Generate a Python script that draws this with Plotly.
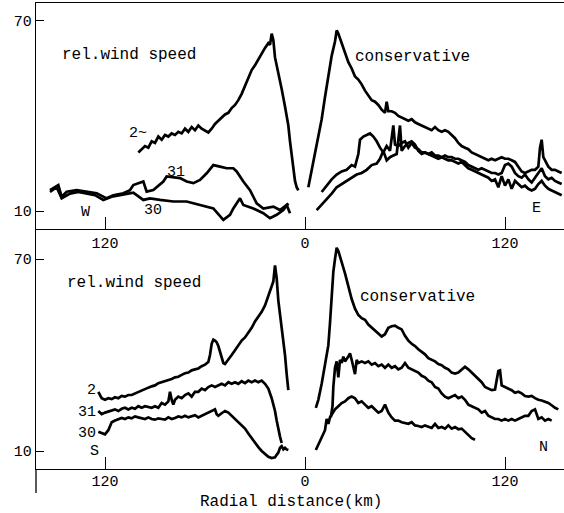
import plotly.graph_objects as go

# ---------------- data (km, relative wind speed) ----------------
# TOP panel (W - E)
top2_w_km = [-100,-98,-96,-94,-92,-90,-88,-86,-84,-82,-80,-78,-76,-74,-72,-70,-68,-66,-64,-62,-60,-58,-56,-54,-52,-50,-48,-46,-44,-42,-40,-38,-36,-34,-32,-30,-28,-26,-24,-22,-21,-20,-19,-18,-16,-14,-12,-10,-9,-8,-7,-6,-5,-4]
top2_w_v = [28.5,29.5,30.5,30,32,31.5,33.5,32.5,34,33.5,34.5,34,35,34.5,36,35,36.5,35.5,37,36,35.5,34.8,36,37.5,38.5,39.5,40.5,41,42.5,43.5,45,47,49.5,52,54.5,56,58,60,61.5,63,62.5,66,64,58.5,54,48.5,43,37,32,28,24.5,19.5,17.5,16.5]

top2_e_km = [2,4,6,8,10,12,14,16,18,19,20,21,22,24,26,28,30,32,34,36,38,40,42,44,46,48,49,50,52,54,56,58,60,62,64,66,68,70,72,74,76,78,80,82,84,86,88,90,92,94,96,98,100,102,104,106,108,110,112,114,116,118,120,122,124,126,128,130,132,134,136,138,140,141,142,143,144,146,148,150,152,154]
top2_e_v = [17.5,23,28,33.5,39,46,53,59,63.5,67,66,64.5,63,60,57,55,52.5,51.5,50,48,46.5,45,44.5,43.5,42,41,44.5,41.5,41.5,41,40,39.5,39,38.5,39,38,37.5,37,36.5,36,35.5,36.5,35.5,35,35.5,35,34,33,31.5,30.5,30,29.5,28.5,28,27.5,27,26.5,26,26.5,26,26.5,27,26.5,26.5,26,25.5,24,22.5,22,22.5,23,23,24,30,32.5,27,26,24,23,23,22.5,22]

top31_w_km = [-153,-148,-146,-143,-137,-131,-125,-119,-115,-109,-105,-103,-97,-95,-91,-85,-83,-75,-71,-67,-63,-59,-55,-51,-47,-43,-41,-37,-33,-31,-29,-25,-19,-15,-11,-9]
top31_w_v = [16.6,18.2,14.5,16.1,16.6,16.1,15.6,14.0,15.0,15.6,16.6,18.2,19.3,16.1,16.6,19.3,20.9,20.4,19.3,18.8,19.8,21.9,24.5,24.0,23.5,23.5,22.5,19.3,16.6,14.5,12.4,10.8,11.4,10.3,11.9,9.3]

top30_w_km = [-153,-149,-146,-141,-136,-131,-126,-121,-116,-111,-107,-103,-97,-93,-87,-79,-71,-63,-55,-49,-45,-43,-39,-37,-31,-25,-21,-17,-13,-10]
top30_w_v = [16.0,17.5,14.0,15.5,16.0,15.5,15.0,13.5,14.5,15.0,15.5,15.8,13.5,14.0,13.5,13.0,13.0,11.9,10.8,7.2,8.8,10.8,14.0,11.9,10.8,9.3,7.7,8.8,10.3,12.4]

top31_e_km = [10,13,16,19,22,25,28,30,32,33,35,37,39,41,43,45,47,49,51,53,54,56,58,60,62,64,66,68,70,72,74,76,78,80,82,84,86,88,90,92,94,96,98,100,102,104,106,108,110,112,114,116,118,120,122,124,126,128,130,132,134,136,138,140,142,144,146,148,150,152,154]
top31_e_v = [16.0,18,20,21.5,22.5,23,24.5,24,28,32.5,33.5,34,34.5,33.5,32,30,28.5,30.5,29,37,31,30.5,31.5,32,30,31.5,30,29.5,28.5,28.5,28,28.5,27.5,27.5,27,27.5,27,27,26.5,26.5,26,25.5,24.5,24,23.5,23,23.5,23,22.5,22,22,21.5,22,24.5,25,24,22,21,20.5,21.5,20,19,20.5,22,23.5,21,20,20.5,19.5,19,18.5]

top30_e_km = [7,10,13,16,19,22,25,28,31,34,37,40,43,45,47,49,51,53,55,57,58,60,62,64,66,68,70,72,74,76,78,80,82,84,86,88,90,92,94,96,98,100,102,104,106,108,110,112,114,116,118,120,122,124,126,128,130,132,134,136,138,140,142,144,146,148,150,152,154]
top30_e_v = [10.3,12,14,15.5,17.5,18.5,19.5,20.5,21.5,22,23,24.5,25,26.5,29,26,27,27.5,28,37,29,30.5,31.5,32,31,29,28,28.5,28,27.5,27,26.5,27,26.5,26,26,25.5,25,25.5,24.5,23.5,23,22.5,22,21.5,21,20.5,19.5,20,17.5,21,18,20,17,19.5,18.5,17.5,18,17,16.5,17,18.5,19.5,18,17,16.5,16,15.5,15]

# BOTTOM panel (S - N)
bot2_s_km = [-124,-122,-120,-118,-116,-114,-112,-110,-108,-106,-104,-102,-100,-98,-96,-94,-92,-90,-88,-86,-84,-82,-80,-78,-76,-74,-72,-70,-68,-66,-64,-62,-60,-58,-57,-56,-55,-54,-53,-52,-51,-50,-49,-48,-47,-46,-44,-42,-40,-38,-36,-34,-32,-30,-28,-26,-24,-22,-20,-19,-18,-17,-16,-15,-14,-13,-12,-11,-10]
bot2_s_v = [28.5,26.5,26,26.5,26.2,26.8,26.5,27.2,27,27.5,27.5,28,28.5,29,29.3,29.8,30.2,30.5,31.2,31.5,32,32.3,32.5,33,33.2,33.8,34.3,34.5,35.2,35.5,35.8,36.5,37,37.8,40,43.5,44.8,44.5,44,42.8,41,39,37.5,37.2,38,38.5,40,41.5,43,44.5,45.5,47,48.5,50.5,52,53.5,55.5,58.5,61.5,63,68,64,57,53,49,45,40,34,29]

bot31_s_km = [-124,-122,-120,-118,-116,-114,-112,-110,-108,-106,-104,-102,-100,-98,-96,-94,-92,-90,-88,-86,-84,-82,-81,-80,-79,-78,-76,-74,-72,-70,-68,-66,-64,-62,-60,-58,-56,-54,-52,-50,-48,-46,-44,-42,-40,-38,-36,-34,-32,-30,-28,-26,-24,-22,-20,-18,-17,-16,-15,-14]
bot31_s_v = [22.5,21.5,22,22.3,22.8,23,22.5,23.2,23.5,23,23.5,23.2,24,23.5,24,23.8,23.5,24,23.5,25,24.5,25.5,28.5,26,24.5,26,27,26.5,27.5,28,27,28.5,28.5,29.5,29,30,30.5,30,30.5,31,30.5,31.5,31,31.5,31,31.8,31.2,32,31.5,32,31.5,32,31,29.5,26.5,22.5,19.5,16.5,14.5,12.5]

bot30_s_km = [-124,-122,-120,-118,-116,-114,-112,-110,-108,-106,-104,-102,-100,-98,-96,-94,-92,-90,-88,-86,-84,-82,-80,-78,-76,-74,-72,-70,-68,-66,-64,-62,-60,-58,-56,-54,-53,-52,-50,-48,-46,-44,-42,-40,-38,-36,-34,-32,-30,-28,-26,-24,-22,-20,-18,-17,-16,-15,-14,-13,-12,-11,-10]
bot30_s_v = [16,15.5,15.2,16.5,19,19.5,20,20.3,20,20.5,20.2,20.8,20.5,20.2,20,20.5,20,19.8,20.2,20,19.8,20.5,20,20.3,20.8,20.5,21,20.5,20.8,21.2,20.5,21,21.5,22,22.5,23,21.5,21,21.8,22.5,22,21,20,19,18,17,15.5,14,12.5,11.2,10,9,8.2,7.8,8,8.8,9.5,11,11.5,10.5,11,10.5,10.3]

bot2_n_km = [6.5,8,10,12,14,15,16,17,18,19,20,21,22,24,26,28,30,32,34,36,38,40,42,44,46,48,50,52,54,56,58,60,62,64,66,68,70,72,74,76,78,80,82,84,86,88,90,92,94,96,98,100,102,104,106,108,110,112,114,116,117,118,120,122,124,126,128,130,132,134,136,138,140,142,144,146,148,150,152]
bot2_n_v = [23.5,26,31,37,43,50,60,66,70,73.5,72.5,71,69,65.5,61,57.5,54.5,52.5,51.5,51,49.5,48.5,47.5,46.5,45.8,46.5,48.5,49,49.2,48.5,48,46,44.5,43.5,42.8,41.8,41,40.2,39,38.5,38,37.2,36.8,36,35.5,34.5,34.2,34.5,35.5,36.3,35.5,34.5,33.5,32.5,31.5,30,29.5,29,29.2,35,35.2,30.5,30,29.5,29,28.2,28.5,28,27.2,27,27.2,26.5,26,25.8,25.5,25,24.3,23.5,23]

bot31_n_km = [15.5,16.5,17,18,19,20,21,22,23,24,26,27,28,29,30,31,32,34,36,38,40,42,44,46,48,50,52,54,56,58,60,62,64,66,68,70,72,74,76,78,80,82,84,86,88,90,92,94,96,98,100,102,104,106,108,110,112,114,116,118,120,122,124,126,128,130,132,134,136,138,140,142,144,146,148]
bot31_n_v = [20.5,24,30,36,38,33,38.5,37.5,39.5,38,39.5,40.5,38.5,36,34,38.5,37.5,38,37.5,38,37,37.5,36.5,37,36,37,36,36.5,35.5,36,37.5,36,35.5,35,34.5,33.5,33,32,31.5,30,29.5,28,27,26.5,27,27.5,26.5,27,26,24.5,24,23.5,23,22,22.5,21,20.5,20,20,19.5,20,19.5,20,19.5,20,20.5,21,21,22.5,23,20,20.5,19.5,20,19.5]

bot30_n_km = [6.5,8,10,12,13,14,15,16,18,20,22,24,26,28,30,32,34,36,38,40,42,44,46,48,50,52,54,56,58,60,62,64,66,68,70,72,74,76,78,80,82,84,86,88,90,92,94,96,98,100,102]
bot30_n_v = [10.3,12,14.5,16.5,20,18.5,20.5,21.5,23,24,25,25.5,26.5,27,26.5,25,25.5,24.5,23.5,24,23,22,22.5,24.5,22,20.5,19.5,19.5,19,18.8,18.5,19,18,17.8,17.5,18,17.5,17.2,18.5,17.2,17.5,17,18,17,17.5,16.8,17,16,15,14,13.5]

x_tickvals = [-120, 0, 120]
x_ticktext = ["120", "0", "120"]
y_tickvals = [10, 70]
y_ticktext = ["10", "70"]

# ---------------- figure ----------------
W, H = 564, 513
FONT = "Liberation Mono"
fig = go.Figure()

line = dict(color="black", width=2.7)
for xs, ys in [(top2_w_km, top2_w_v), (top2_e_km, top2_e_v), (top31_w_km, top31_w_v),
               (top30_w_km, top30_w_v), (top31_e_km, top31_e_v), (top30_e_km, top30_e_v)]:
    fig.add_trace(go.Scatter(x=xs, y=ys, mode="lines", line=line, xaxis="x", yaxis="y",
                             showlegend=False, hoverinfo="skip"))
for xs, ys in [(bot2_s_km, bot2_s_v), (bot31_s_km, bot31_s_v), (bot30_s_km, bot30_s_v),
               (bot2_n_km, bot2_n_v), (bot31_n_km, bot31_n_v), (bot30_n_km, bot30_n_v)]:
    fig.add_trace(go.Scatter(x=xs, y=ys, mode="lines", line=line, xaxis="x2", yaxis="y2",
                             showlegend=False, hoverinfo="skip"))

def px_x(p):
    return p / W

def px_y(p):
    return 1 - p / H

xr = [-161.4, 155.4]
axis_common = dict(showgrid=False, zeroline=False, showline=True, linecolor="black",
                   linewidth=1.3, ticks="inside", tickcolor="black",
                   tickfont=dict(family=FONT, size=15, color="black"))

fig.update_layout(
    width=W, height=H, margin=dict(l=0, r=0, t=0, b=0),
    paper_bgcolor="white", plot_bgcolor="white",
    xaxis=dict(domain=[px_x(36), 1], range=xr, anchor="y", tickvals=x_tickvals,
               ticktext=x_ticktext, ticklen=12, mirror=True, **axis_common),
    yaxis=dict(domain=[px_y(229), px_y(3)], range=[4.316, 75.68], anchor="x",
               tickvals=y_tickvals, ticktext=y_ticktext, ticklen=8, **axis_common),
    xaxis2=dict(domain=[px_x(36), 1], range=xr, anchor="y2", tickvals=x_tickvals,
                ticktext=x_ticktext, ticklen=12, ticklabelstandoff=-2, **axis_common),
    yaxis2=dict(domain=[px_y(469), px_y(229)], range=[4.375, 79.375], anchor="x2",
                tickvals=y_tickvals, ticktext=y_ticktext, ticklen=8, **axis_common),
)

# left axis line extending below the lower x axis
fig.add_shape(type="line", xref="paper", yref="paper", x0=px_x(36), x1=px_x(36),
              y0=px_y(469), y1=px_y(493), line=dict(color="black", width=1.3))

def ann(text, x, y, xr_, yr_, xanchor="left", size=16):
    fig.add_annotation(text=text, x=x, y=y, xref=xr_, yref=yr_, showarrow=False,
                       xanchor=xanchor, yanchor="middle",
                       font=dict(family=FONT, size=size, color="black"))

# top panel labels
ann("rel.wind speed", -147, 59.3, "x", "y", size=16)
ann("conservative", 28.8, 58.6, "x", "y", size=16)
ann("2~", -107, 34.6, "x", "y", size=15)
ann("31", -84, 22.3, "x", "y", size=15)
ann("30", -98, 10.3, "x", "y", size=15)
ann("W", -132, 9.4, "x", "y", xanchor="center", size=15)
ann("E", 139, 10.9, "x", "y", xanchor="center", size=15)
# bottom panel labels
ann("rel.wind speed", -144, 62.5, "x2", "y2", size=16)
ann("conservative", 31.8, 58.1, "x2", "y2", size=16)
ann("2", -124.5, 29, "x2", "y2", xanchor="right", size=15)
ann("31", -124.5, 21.9, "x2", "y2", xanchor="right", size=15)
ann("30", -124.5, 15.6, "x2", "y2", xanchor="right", size=15)
ann("S", -126.6, 9.7, "x2", "y2", xanchor="center", size=15)
ann("N", 143, 11.25, "x2", "y2", xanchor="center", size=15)

# axis title
fig.add_annotation(text="Radial distance(km)", x=px_x(291), y=px_y(502), xref="paper",
                   yref="paper", showarrow=False, xanchor="center", yanchor="middle",
                   font=dict(family=FONT, size=16, color="black"))

fig.write_html("out.html", config={"displayModeBar": False},
               post_script="document.body.style.margin='0';")
